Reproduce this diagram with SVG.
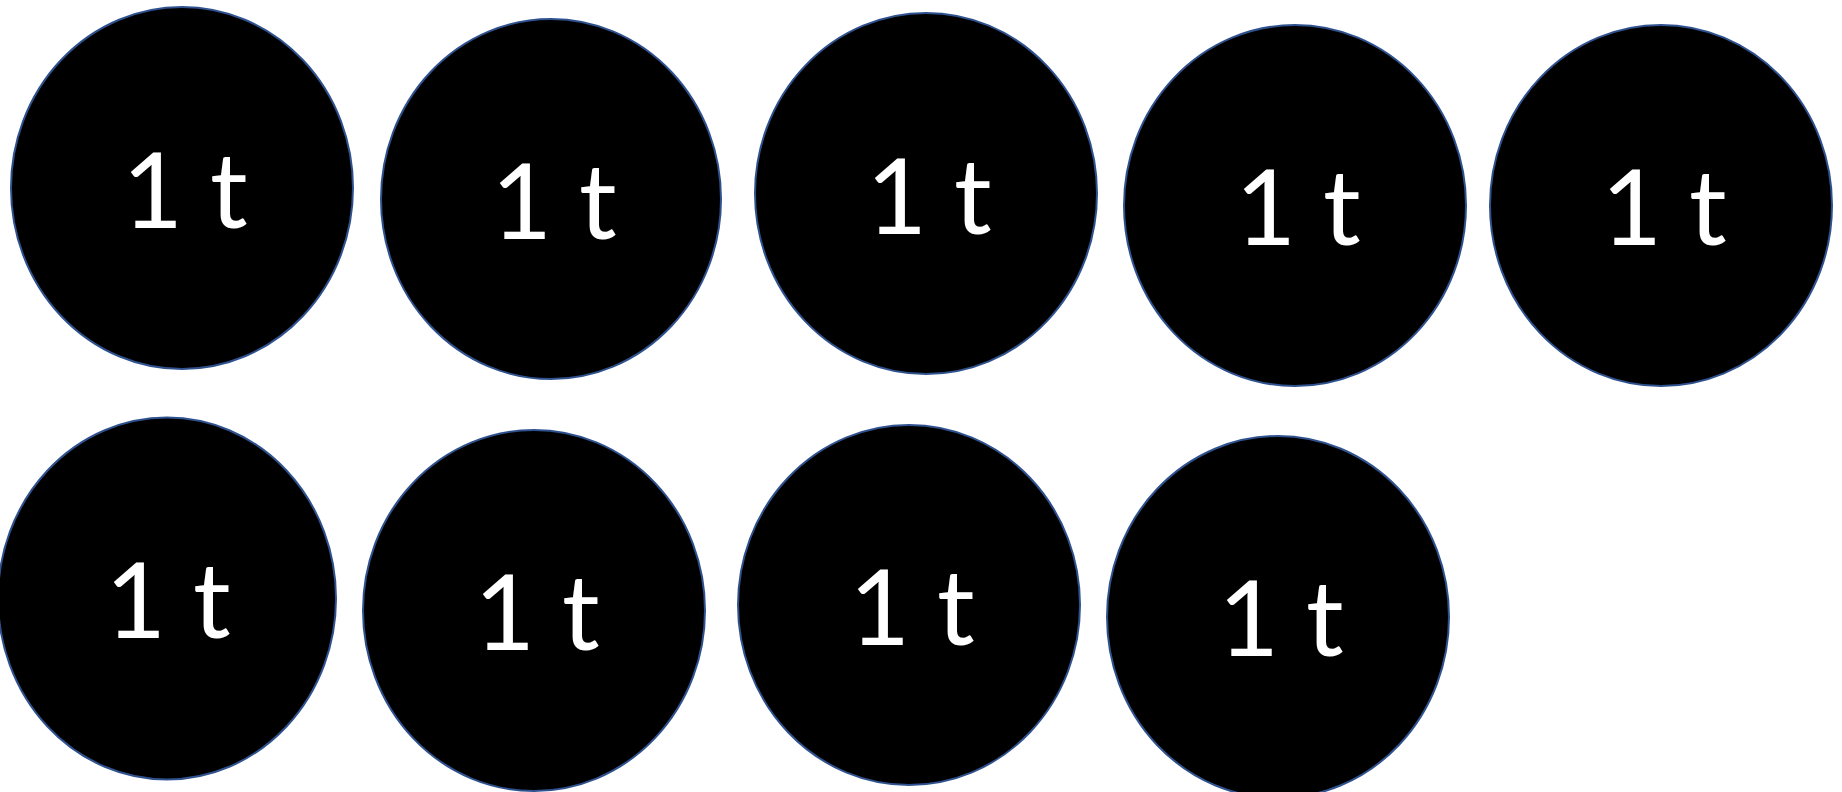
<svg xmlns="http://www.w3.org/2000/svg" width="1842" height="792" viewBox="0 0 1842 792">
<style>
.n{fill:#000000;stroke:#2F528F;stroke-width:2}
.t{fill:#FFFFFF;font-family:Lato,"DejaVu Sans",sans-serif;font-size:105px;text-anchor:middle}
</style>
<rect width="1842" height="792" fill="#FFFFFF"/>
<g id="node1"><ellipse class="n" cx="182" cy="188" rx="171" ry="181"/><text class="t" x="185" y="228">1 t</text></g>
<g id="node2"><ellipse class="n" cx="551" cy="199" rx="170" ry="180"/><text class="t" x="554" y="239">1 t</text></g>
<g id="node3"><ellipse class="n" cx="926" cy="193.5" rx="171" ry="180.5"/><text class="t" x="929" y="234">1 t</text></g>
<g id="node4"><ellipse class="n" cx="1295" cy="205.5" rx="171" ry="180.5"/><text class="t" x="1298" y="245">1 t</text></g>
<g id="node5"><ellipse class="n" cx="1661" cy="205.5" rx="171" ry="180.5"/><text class="t" x="1664" y="245">1 t</text></g>
<g id="node6"><ellipse class="n" cx="167" cy="598.5" rx="169" ry="181"/><text class="t" x="168" y="638">1 t</text></g>
<g id="node7"><ellipse class="n" cx="534" cy="610.5" rx="171" ry="180.5"/><text class="t" x="537" y="650">1 t</text></g>
<g id="node8"><ellipse class="n" cx="909" cy="605" rx="171" ry="180"/><text class="t" x="912" y="645">1 t</text></g>
<g id="node9"><ellipse class="n" cx="1278" cy="617" rx="171" ry="181"/><text class="t" x="1281" y="656">1 t</text></g>
<g id="connectors"></g>
</svg>
